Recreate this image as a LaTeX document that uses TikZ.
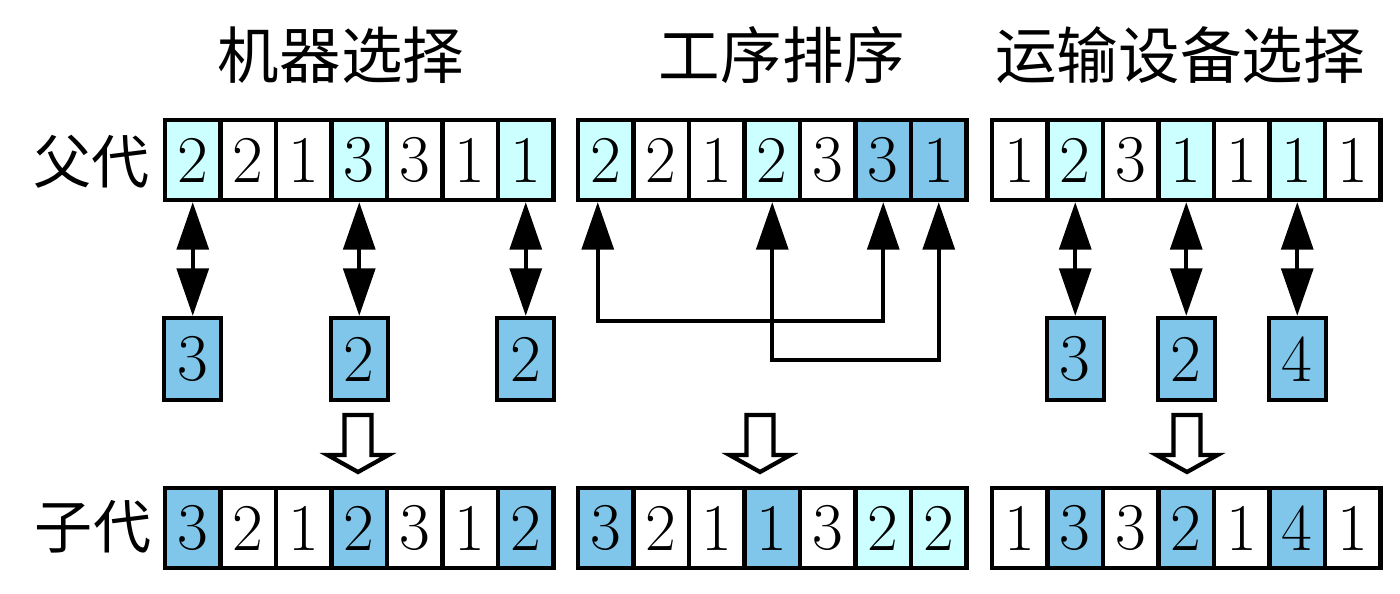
\documentclass[tikz,border=0pt]{standalone}
\usepackage{fontspec}
\newfontfamily\cjk{Noto Sans CJK SC}
\usetikzlibrary{arrows.meta}

\definecolor{genelight}{RGB}{204,255,255}
\definecolor{geneblue}{RGB}{128,198,234}

\tikzset{
  gene/.style={rectangle, draw, line width=1.2pt, minimum width=0.555cm, minimum height=0.8cm, inner sep=0pt, font=\rmfamily\fontsize{19}{20}\selectfont},
  swapbox/.style={gene, fill=geneblue, minimum width=0.57cm, minimum height=0.82cm},
  link/.style={<->, line width=1.2pt},
  hollow/.style={draw, fill=white, line width=1.2pt, line join=miter},
  headtext/.style={font=\cjk\fontsize{17.5}{20}\selectfont, inner sep=0pt},
  sidetext/.style={font=\cjk\fontsize{16.5}{20}\selectfont, inner sep=0pt}
}

\begin{document}
\begin{tikzpicture}[x=0.01cm, y=-0.01cm, >={Triangle[width=9pt,length=13.5pt]}]
\useasboundingbox (0,0) rectangle (1400,594);

\node[headtext] (ta) at (341,55) {机器选择};
\node[headtext] (tb) at (782,55) {工序排序};
\node[headtext] (tc) at (1180,55) {运输设备选择};
\node[sidetext] (lp) at (92,162) {父代};
\node[sidetext] (lc) at (93,527) {子代};

% parents
\foreach \v/\c [count=\i] in {2/genelight,2/white,1/white,3/genelight,3/white,1/white,1/genelight}
  \node[gene, fill=\c] (pa\i) at (137.25+\i*55.5,160) {\v};
\foreach \v/\c [count=\i] in {2/genelight,2/white,1/white,2/genelight,3/white,3/geneblue,1/geneblue}
  \node[gene, fill=\c] (pb\i) at (550.25+\i*55.5,160) {\v};
\foreach \v/\c [count=\i] in {1/white,2/genelight,3/white,1/genelight,1/white,1/genelight,1/white}
  \node[gene, fill=\c] (pc\i) at (964.25+\i*55.5,160) {\v};

% new genes
\node[swapbox] (sa1) at (192.75,359) {3};
\node[swapbox] (sa2) at (359.25,359) {2};
\node[swapbox] (sa3) at (525.75,359) {2};
\node[swapbox] (sc1) at (1075.25,359) {3};
\node[swapbox] (sc2) at (1186.25,359) {2};
\node[swapbox] (sc3) at (1297.25,359) {4};

\draw[link] (pa1.south) -- (sa1.north);
\draw[link] (pa4.south) -- (sa2.north);
\draw[link] (pa7.south) -- (sa3.north);
\draw[link] (pc2.south) -- (sc1.north);
\draw[link] (pc4.south) -- (sc2.north);
\draw[link] (pc6.south) -- (sc3.north);

\draw[link] ([xshift=-0.08cm]pb1.south) -- ++(0,119) -| (pb6.south);
\draw[link] (pb4.south) -- ++(0,158) -| (pb7.south);

% children
\foreach \v/\c [count=\i] in {3/geneblue,2/white,1/white,2/geneblue,3/white,1/white,2/geneblue}
  \node[gene, fill=\c] (ca\i) at (137.25+\i*55.5,528) {\v};
\foreach \v/\c [count=\i] in {3/geneblue,2/white,1/white,1/geneblue,3/white,2/genelight,2/genelight}
  \node[gene, fill=\c] (cb\i) at (550.25+\i*55.5,528) {\v};
\foreach \v/\c [count=\i] in {1/white,3/geneblue,3/white,2/geneblue,1/white,4/geneblue,1/white}
  \node[gene, fill=\c] (cc\i) at (964.25+\i*55.5,528) {\v};

\foreach \hx in {358,760,1187}
  \draw[hollow] (\hx-13.5,415) -- (\hx+13.5,415) -- (\hx+13.5,455) -- (\hx+30.5,455)
    -- (\hx,472) -- (\hx-30.5,455) -- (\hx-13.5,455) -- cycle;

\end{tikzpicture}
\end{document}
